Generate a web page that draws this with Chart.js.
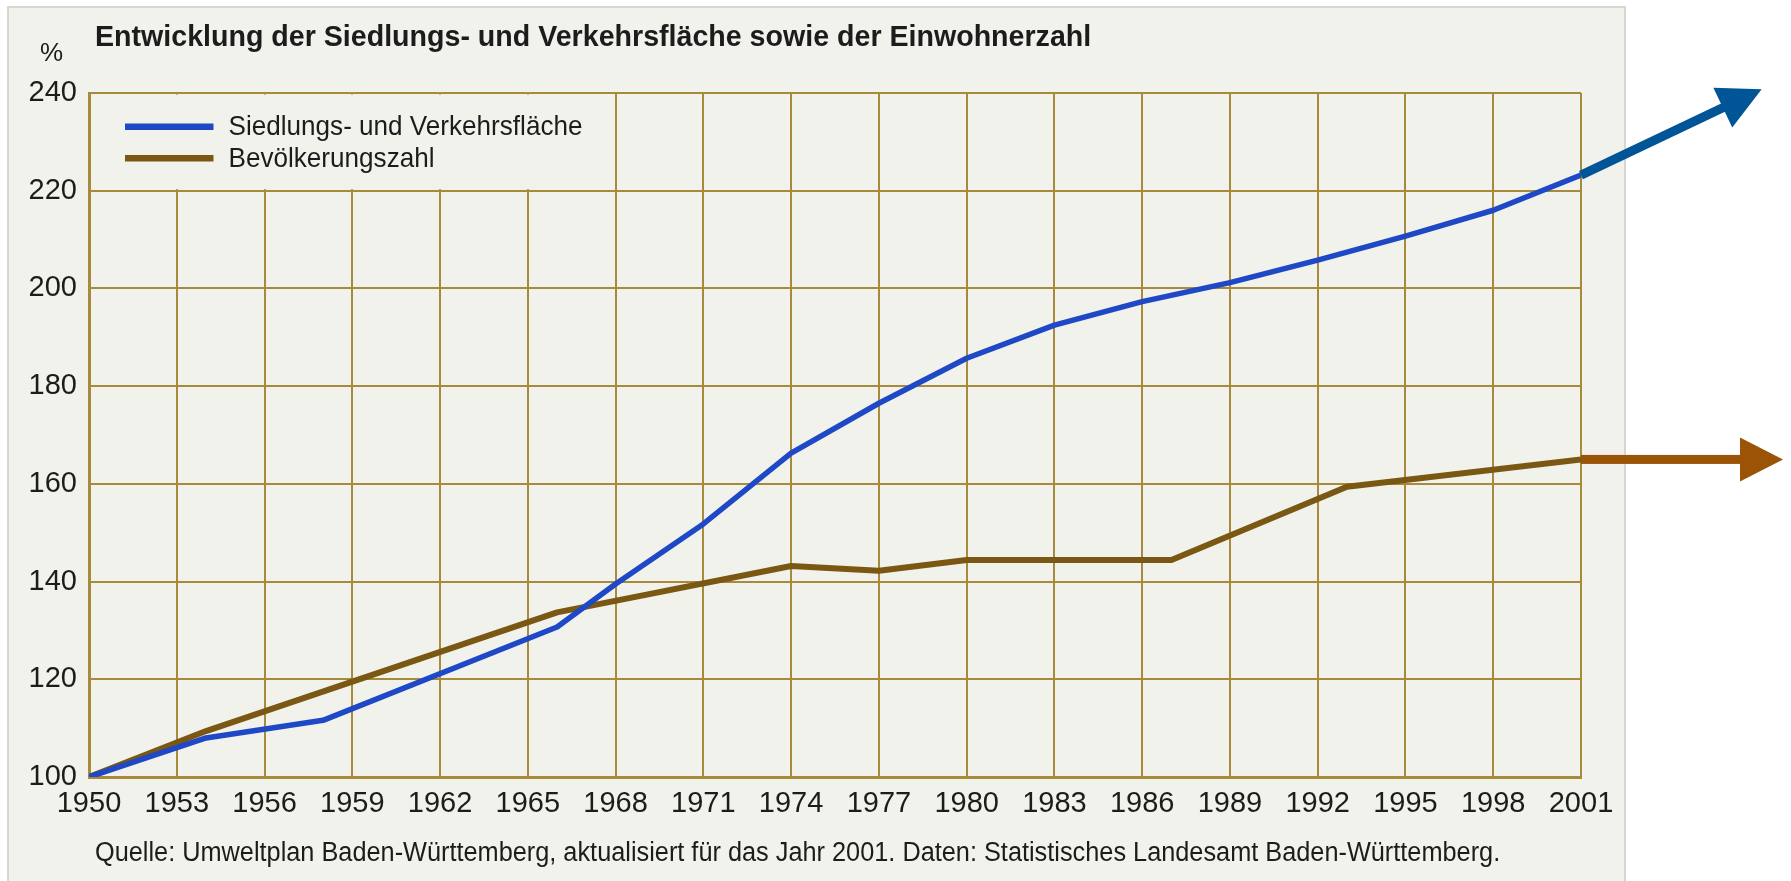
<!DOCTYPE html>
<html lang="de">
<head>
<meta charset="utf-8">
<title>Entwicklung der Siedlungs- und Verkehrsfläche sowie der Einwohnerzahl</title>
<script src="https://cdn.jsdelivr.net/npm/chart.js@4.4.1/dist/chart.umd.min.js"></script>
<style>
  html, body { margin: 0; padding: 0; background: #fff; overflow: hidden; }
  #blatt { position: absolute; left: 7px; top: 6px; width: 1615px; height: 900px; background: #f2f2ec; border: 2px solid #d6d6d6; }
  #wrap { position: absolute; left: 0; top: 0; width: 1791px; height: 881px; }
  .txt { position: absolute; white-space: nowrap; color: #1c1c1c; line-height: 1;
         font-family: 'Liberation Sans', Arial, sans-serif; transform-origin: 0 0; }
  #titel { left: 95px; top: 21px; font-size: 30px; font-weight: bold; }
  #prozent { left: 40px; top: 39px; font-size: 26px; }
  #quelle { left: 95px; top: 839px; font-size: 27px; }
</style>
</head>
<body>
<div id="blatt"></div>
<div id="wrap"><canvas id="grafik" width="1791" height="881"></canvas></div>
<div class="txt" id="titel">Entwicklung der Siedlungs- und Verkehrsfläche sowie der Einwohnerzahl</div>
<div class="txt" id="prozent">%</div>
<div class="txt" id="quelle">Quelle: Umweltplan Baden-Württemberg, aktualisiert für das Jahr 2001. Daten: Statistisches Landesamt Baden-Württemberg.</div>
<script>
// Daten (Index 1950 = 100)
const jahreTicks = [1950, 1953, 1956, 1959, 1962, 1965, 1968, 1971, 1974, 1977, 1980, 1983, 1986, 1989, 1992, 1995, 1998, 2001];
const prozentTicks = [100, 120, 140, 160, 180, 200, 220, 240];

const flaecheJahre = [1950, 1954, 1958, 1966, 1968, 1971, 1974, 1977, 1980, 1983, 1986, 1989, 1992, 1995, 1998, 2001];
const flaecheWerte = [100, 108, 111.6, 130.7, 139.5, 151.8, 166.3, 176.5, 185.7, 192.5, 197.3, 201.2, 205.8, 210.7, 216, 223.2];

const bevJahre = [1950, 1954, 1966, 1974, 1977, 1980, 1987, 1993, 2001];
const bevWerte = [100, 109.4, 133.7, 143.2, 142.2, 144.4, 144.4, 159.4, 165];

const PAPIER = '#f2f2ec';
const GITTER = '#a88a3c';

// Titel und Quelle etwas schmaler ziehen (Schrift im Original ist condensed)
function stauchen(id, breite) {
    const el = document.getElementById(id);
    el.style.transform = `scaleX(${breite / el.offsetWidth})`;
}
stauchen('titel', 996);
stauchen('quelle', 1405);

// Legende liegt im Diagramm oben links, dort fehlen die senkrechten Linien
const legendePlugin = {
    id: 'legende',
    beforeDatasetsDraw(chart) {
        const { ctx, scales: { x, y } } = chart;
        ctx.save();
        ctx.fillStyle = PAPIER;
        const l = x.getPixelForValue(1950) + 2, r = x.getPixelForValue(1968) - 1.5;
        const t = y.getPixelForValue(240) + 1.5, b = y.getPixelForValue(220) - 1.5;
        ctx.fillRect(l, t, r - l, b - t);
        ctx.restore();
    },
    afterDatasetsDraw(chart) {
        const { ctx, chartArea } = chart;
        ctx.save();
        ctx.font = "28px 'Liberation Sans', Arial, sans-serif";
        const sx = 354 / ctx.measureText(chart.data.datasets[0].label).width;
        chart.data.datasets.forEach((ds, i) => {
            const zy = chartArea.top + 33.7 + i * 31.6;
            ctx.strokeStyle = ds.borderColor;
            ctx.lineWidth = 6.5;
            ctx.beginPath();
            ctx.moveTo(chartArea.left + 36, zy);
            ctx.lineTo(chartArea.left + 124.5, zy);
            ctx.stroke();
            ctx.save();
            ctx.translate(chartArea.left + 139.5, zy + 8.5);
            ctx.scale(sx, 1);
            ctx.fillStyle = '#1c1c1c';
            ctx.textBaseline = 'alphabetic';
            ctx.fillText(ds.label, 0, 0);
            ctx.restore();
        });
        ctx.restore();
    }
};

// Pfeile am Ende der Linien
const pfeilPlugin = {
    id: 'pfeile',
    afterDatasetsDraw(chart) {
        const ctx = chart.ctx;
        chart.data.datasets.forEach((ds, i) => {
            const pts = chart.getDatasetMeta(i).data;
            const p = pts[pts.length - 1];
            const w = -ds.pfeilWinkel * Math.PI / 180;
            const L = ds.pfeilLaenge, kopf = 43, halb = 22, schaft = 9;
            ctx.save();
            ctx.translate(p.x, p.y);
            ctx.rotate(w);
            ctx.fillStyle = ds.pfeilFarbe;
            ctx.fillRect(0, -schaft / 2, L - kopf + 2, schaft);
            ctx.beginPath();
            ctx.moveTo(L, 0);
            ctx.lineTo(L - kopf, -halb);
            ctx.lineTo(L - kopf, halb);
            ctx.closePath();
            ctx.fill();
            ctx.restore();
        });
    }
};

Chart.defaults.font.family = "'Liberation Sans', Arial, sans-serif";
Chart.defaults.font.size = 29;
Chart.defaults.color = '#1c1c1c';

new Chart(document.getElementById('grafik'), {
    type: 'line',
    data: {
        datasets: [{
            label: 'Siedlungs- und Verkehrsfläche',
            data: flaecheJahre.map((j, k) => ({ x: j, y: flaecheWerte[k] })),
            borderColor: '#1f48c6',
            borderWidth: 5.5,
            pfeilFarbe: '#005597',
            pfeilWinkel: 25.4,
            pfeilLaenge: 200
        }, {
            label: 'Bevölkerungszahl',
            data: bevJahre.map((j, k) => ({ x: j, y: bevWerte[k] })),
            borderColor: '#7a5712',
            borderWidth: 6,
            pfeilFarbe: '#9b5305',
            pfeilWinkel: 0,
            pfeilLaenge: 202
        }]
    },
    options: {
        responsive: false,
        animation: false,
        events: [],
        devicePixelRatio: 1,
        layout: { padding: { top: 93, right: 210, bottom: 0, left: 0 } },
        elements: {
            point: { radius: 0 },
            line: { tension: 0, borderJoinStyle: 'round', borderCapStyle: 'butt' }
        },
        plugins: {
            legend: { display: false },
            tooltip: { enabled: false }
        },
        scales: {
            x: {
                type: 'linear',
                min: 1950,
                max: 2001,
                afterBuildTicks: s => { s.ticks = jahreTicks.map(v => ({ value: v })); },
                afterFit: s => { s.height = 104; },
                ticks: { padding: 10, maxRotation: 0, autoSkip: false, callback: v => String(v) },
                grid: { color: GITTER, lineWidth: 2, drawTicks: false },
                border: { color: GITTER, width: 3 }
            },
            y: {
                min: 100,
                max: 240,
                afterBuildTicks: s => { s.ticks = prozentTicks.map(v => ({ value: v })); },
                afterFit: s => { s.width = 89; },
                ticks: { padding: 12, autoSkip: false },
                grid: { color: GITTER, lineWidth: 2, drawTicks: false },
                border: { color: GITTER, width: 3 }
            }
        }
    },
    plugins: [legendePlugin, pfeilPlugin]
});
</script>
</body>
</html>
